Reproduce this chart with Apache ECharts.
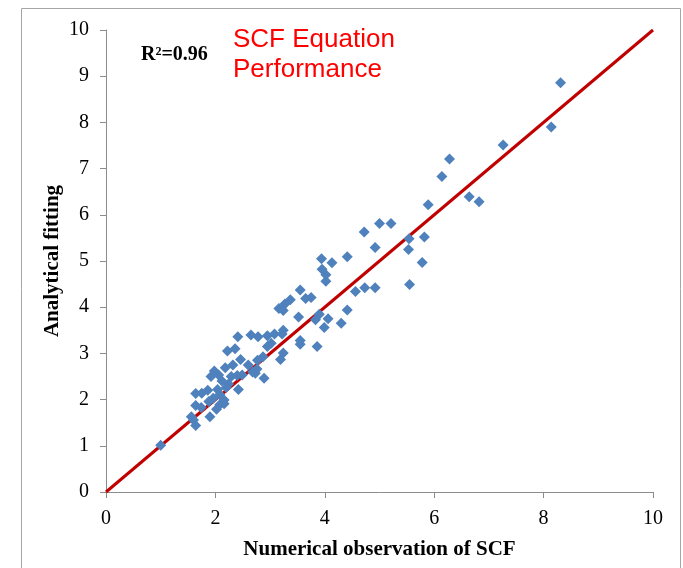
<!DOCTYPE html>
<html>
<head>
<meta charset="utf-8">
<style>
  html, body { margin: 0; padding: 0; background: #ffffff; }
  #chart { width: 683px; height: 568px; }
</style>
<script src="https://cdn.jsdelivr.net/npm/echarts@6/dist/echarts.min.js"></script>
</head>
<body>
<div id="chart"></div>
<script>
// Numerical SCF (x) against the analytical equation (y)
const scfNumerical = [
  1.00, 8.31, 8.14, 7.26, 6.28, 6.14, 6.64, 6.82, 5.89, 5.00,
  5.21, 4.72, 5.54, 5.82, 5.53, 4.92, 5.78, 5.55, 3.94, 4.41,
  4.13, 3.95, 4.02, 4.02, 4.92, 4.73, 4.56, 3.55, 3.75, 3.65,
  3.37, 3.27, 3.16, 3.24, 4.41, 3.52, 3.90, 3.83, 4.06, 4.30,
  3.99, 3.24, 3.22, 3.08, 2.95, 2.78, 2.65, 2.41, 3.55, 3.55,
  3.02, 2.95, 2.36, 2.22, 3.86, 3.24, 3.19, 2.87, 2.77, 2.46,
  2.60, 2.32, 2.18, 2.68, 2.76, 1.98, 1.92, 2.40, 2.29, 2.89,
  2.12, 2.24, 2.20, 2.42, 2.04, 1.86, 1.64, 1.75, 2.08, 1.96,
  2.16, 1.88, 2.08, 1.64, 1.74, 2.16, 2.02, 1.90, 1.56, 1.60,
  1.64, 2.73, 2.49, 2.06
];
const scfAnalytical = [
  1.01, 8.86, 7.90, 7.51, 7.21, 6.83, 6.39, 6.28, 6.22, 5.81,
  5.81, 5.63, 5.48, 5.52, 5.25, 5.29, 4.97, 4.49, 5.05, 5.09,
  4.96, 4.82, 4.70, 4.56, 4.42, 4.42, 4.34, 4.37, 4.21, 4.19,
  4.16, 4.07, 3.97, 3.93, 3.94, 3.79, 3.85, 3.73, 3.75, 3.65,
  3.56, 3.50, 3.42, 3.42, 3.38, 3.36, 3.40, 3.36, 3.28, 3.20,
  3.22, 3.15, 3.10, 3.05, 3.15, 3.01, 2.87, 2.93, 2.85, 2.87,
  2.75, 2.75, 2.69, 2.60, 2.66, 2.62, 2.50, 2.52, 2.50, 2.46,
  2.40, 2.34, 2.26, 2.22, 2.22, 2.20, 2.13, 2.14, 2.11, 2.03,
  1.99, 1.96, 1.89, 1.87, 1.83, 1.91, 1.79, 1.63, 1.63, 1.56,
  1.44, 2.57, 2.53, 2.53
];

// Reference line of perfect agreement
const unityX = [0, 10];
const unityY = [0, 10];

// Axis ticks
const axisMin = 0;
const axisMax = 10;
const axisStep = 2;
const yAxisStep = 1;

const xTitle = 'Numerical observation of SCF';
const yTitle = 'Analytical fitting';
const r2Text = 'R²=0.96';
const headline = 'SCF Equation\nPerformance';

const points = scfNumerical.map((x, i) => [x, scfAnalytical[i]]);
const unityLine = unityX.map((x, i) => [x, unityY[i]]);

const serif = '"Liberation Serif", "Times New Roman", serif';
const axisGrey = '#8c8c8c';

const chart = echarts.init(document.getElementById('chart'), null, { renderer: 'canvas' });

chart.setOption({
  backgroundColor: '#ffffff',
  animation: false,
  grid: { left: 106, right: 30, top: 30, bottom: 76, containLabel: false },
  xAxis: {
    type: 'value',
    min: axisMin, max: axisMax, interval: axisStep,
    name: xTitle,
    nameLocation: 'middle',
    nameGap: 47,
    nameTextStyle: { fontFamily: serif, fontWeight: 'bold', fontSize: 21, color: '#000' },
    axisLine: { show: true, onZero: false, lineStyle: { color: axisGrey, width: 1 } },
    axisTick: { show: true, inside: false, length: 6, lineStyle: { color: axisGrey } },
    axisLabel: { fontFamily: serif, fontSize: 20, color: '#000', margin: 17 },
    splitLine: { show: false }
  },
  yAxis: {
    type: 'value',
    min: axisMin, max: axisMax, interval: yAxisStep,
    name: yTitle,
    nameLocation: 'middle',
    nameRotate: 90,
    nameGap: 43,
    nameMoveOverlap: false,
    nameTextStyle: { fontFamily: serif, fontWeight: 'bold', fontSize: 21, color: '#000' },
    axisLine: { show: true, onZero: false, lineStyle: { color: axisGrey, width: 1 } },
    axisTick: { show: true, inside: false, length: 6, lineStyle: { color: axisGrey } },
    axisLabel: { fontFamily: serif, fontSize: 20, color: '#000', margin: 17 },
    splitLine: { show: false }
  },
  series: [
    {
      type: 'line',
      data: unityLine,
      symbol: 'none',
      lineStyle: { color: '#c00000', width: 3 },
      z: 2,
      silent: true
    },
    {
      type: 'scatter',
      data: points,
      symbol: 'diamond',
      symbolSize: 11,
      itemStyle: { color: '#4f81bd', opacity: 1 },
      z: 3
    }
  ],
  graphic: [
    {
      type: 'rect',
      shape: { x: 21.5, y: 8.5, width: 659, height: 575 },
      style: { fill: 'none', stroke: '#a6a6a6', lineWidth: 1 },
      silent: true
    },
    {
      type: 'text',
      left: 141, top: 45,
      style: { text: r2Text, font: 'bold 20px ' + serif, fill: '#000' }
    },
    {
      type: 'text',
      left: 233, top: 25,
      style: {
        text: headline,
        fontFamily: '"Liberation Sans", Arial, sans-serif',
        fontSize: 26,
        lineHeight: 30,
        fill: '#ff0000'
      }
    }
  ]
});
</script>
</body>
</html>
